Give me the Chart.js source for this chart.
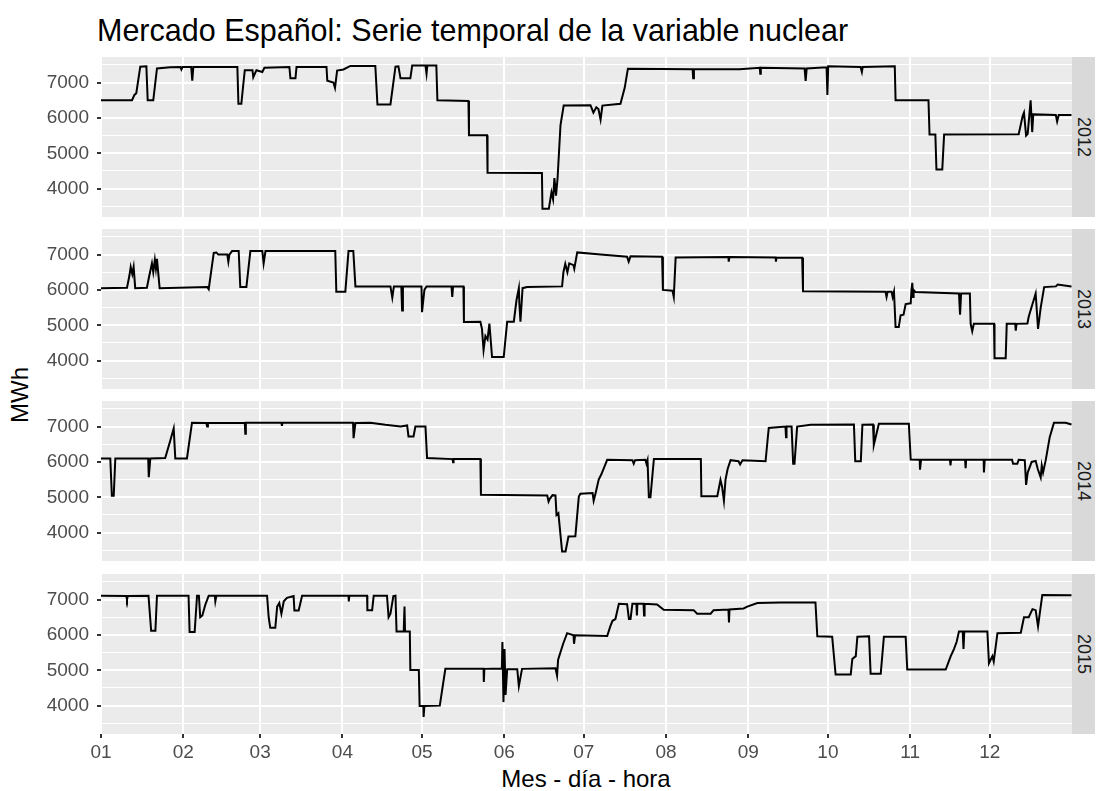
<!DOCTYPE html>
<html lang="es">
<head>
<meta charset="UTF-8">
<title>Mercado Español: Serie temporal de la variable nuclear</title>
<script src="https://cdn.jsdelivr.net/npm/chart.js"></script>
<style>
  body { margin: 0; background: #fff; font-family: "Liberation Sans", Arial, sans-serif; }
  .page { position: relative; width: 1105px; height: 791px; overflow: hidden; }
  .title { position: absolute; left: 97px; top: 15px; font-size: 30.5px; line-height: 30.5px; color: #000; white-space: nowrap; }
  .panel { position: absolute; left: 0; width: 1072px; }
  .strip { position: absolute; left: 1072px; width: 23px; height: 160px; background: #D9D9D9; }
  .strip span { position: absolute; left: 50%; top: 50%; transform: translate(-50%, -50%) rotate(90deg); font-size: 18px; line-height: 18px; color: #1A1A1A; }
  .ylab { position: absolute; left: 20px; top: 395px; transform: translate(-50%, -50%) rotate(-90deg); font-size: 24px; line-height: 24px; color: #000; white-space: nowrap; }
  .xlab { position: absolute; left: 586px; top: 767px; transform: translateX(-50%); font-size: 24px; line-height: 24px; color: #000; white-space: nowrap; }
</style>
</head>
<body>
<div class="page" id="page">
  <div class="title">Mercado Español: Serie temporal de la variable nuclear</div>
  <div class="ylab">MWh</div>
  <div class="xlab">Mes - día - hora</div>
</div>

<script>
  // x = day of year (leap-year calendar, 0 = 1 Jan 00:00), y = MWh
  const years = ['2012', '2013', '2014', '2015'];
  const monthStarts = [0, 31, 60, 91, 121, 152, 182, 213, 244, 274, 305, 335];
  const monthLabels = ['01', '02', '03', '04', '05', '06', '07', '08', '09', '10', '11', '12'];
  const yTicks = [3500, 4000, 4500, 5000, 5500, 6000, 6500, 7000, 7500];
  const yLabelled = [4000, 5000, 6000, 7000];

  const nuclear2012 = [
    [0, 6500], [11.7, 6500], [12.6, 6650], [13.3, 6700], [14.8, 7450], [17.1, 7460], [17.6, 6500], [19.7, 6500],
    [21.1, 7400], [26.1, 7430], [29.9, 7440], [30.3, 7370], [30.7, 7440], [34.0, 7440], [34.4, 7050], [34.8, 7440],
    [51.4, 7440], [51.8, 6400], [52.9, 6400], [53.5, 6850], [54.2, 7350], [57.1, 7350], [57.4, 7150], [58.6, 7350],
    [60.8, 7300], [61.6, 7420], [71.0, 7440], [71.4, 7120], [73.3, 7120], [73.7, 7440], [85.0, 7440], [85.3, 7050],
    [87.6, 7000], [88.2, 6850], [89.0, 7340], [91.4, 7370], [94.0, 7470], [103.4, 7470], [104.2, 6380], [109.1, 6380],
    [111.0, 7450], [112.1, 7460], [112.9, 7120], [116.6, 7120], [117.3, 7480], [122.3, 7480], [122.7, 7250], [123.0, 7480],
    [126.4, 7480], [126.8, 6500], [138.5, 6480], [138.7, 5510], [145.5, 5510], [145.7, 4450], [166.2, 4440], [166.4, 3430],
    [168.8, 3430], [169.8, 3900], [170.4, 3700], [170.9, 4300], [171.5, 3800], [172.1, 4300], [173.2, 5800], [174.4, 6350],
    [184.5, 6360], [185.6, 6150], [186.7, 6300], [187.5, 6250], [188.3, 5950], [189.0, 6350], [195.8, 6400], [197.4, 6850],
    [198.6, 7390], [223.0, 7380], [223.2, 7120], [223.5, 7380], [240.7, 7380], [248.3, 7420], [248.5, 7250], [248.7, 7420],
    [265.2, 7400], [265.6, 7050], [266.0, 7400], [273.5, 7430], [273.8, 6650], [274.1, 7460], [286.3, 7440], [286.8, 7300],
    [287.1, 7440], [299.2, 7460], [299.5, 6500], [311.9, 6500], [312.3, 5530], [314.5, 5530], [314.9, 4540], [317.1, 4540],
    [317.8, 5530], [345.9, 5540], [347.4, 6050], [347.9, 6150], [348.7, 5500], [349.3, 5550], [350.4, 6500], [351.0, 5600],
    [351.4, 6100], [359.9, 6080], [360.4, 5900], [361.0, 6080], [365.8, 6080]
  ];

  const nuclear2013 = [
    [0, 6050], [9.8, 6060], [10.7, 6400], [11.2, 6650], [11.8, 6450], [12.3, 6650], [12.9, 6050], [17.3, 6060],
    [18.2, 6400], [19.2, 6750], [19.7, 6500], [20.3, 6850], [20.7, 6600], [21.1, 6880], [22.1, 6050], [40.1, 6080],
    [40.6, 6020], [42.5, 7050], [43.5, 7060], [44.2, 7000], [47.6, 7000], [48.0, 6800], [48.4, 7000], [49.4, 7100],
    [51.9, 7100], [52.5, 6080], [54.8, 6080], [56.3, 7100], [60.8, 7100], [61.3, 6750], [62.0, 7100], [88.3, 7100],
    [88.7, 5950], [92.1, 5950], [93.3, 7100], [95.1, 7100], [95.9, 6100], [109.1, 6100], [109.8, 5780], [110.4, 6100],
    [113.2, 6100], [113.5, 5420], [113.8, 6100], [120.8, 6100], [121.0, 5370], [121.9, 6000], [122.7, 6100], [132.1, 6100],
    [132.4, 5800], [132.7, 6100], [136.6, 6100], [136.8, 5090], [143.0, 5100], [143.6, 4900], [144.2, 4300], [144.9, 4700],
    [145.7, 4600], [146.4, 5050], [147.4, 4100], [151.8, 4100], [153.1, 5100], [155.6, 5100], [156.6, 5700], [157.5, 6050],
    [157.7, 5600], [158.1, 5100], [158.9, 6050], [160.6, 6080], [173.8, 6100], [174.3, 6500], [175.0, 6740], [175.8, 6500],
    [176.5, 6750], [178.1, 6700], [178.4, 6600], [179.5, 7060], [188.3, 7000], [198.3, 6940], [198.9, 6800], [199.6, 6950],
    [211.5, 6940], [211.8, 6000], [215.4, 5980], [215.9, 5800], [216.6, 6920], [236.5, 6930], [236.6, 6800], [236.9, 6930],
    [254.3, 6920], [254.4, 6800], [254.6, 6920], [264.3, 6910], [264.6, 5960], [295.7, 5950], [296.1, 5800], [296.5, 5950],
    [298.0, 5950], [298.4, 5800], [298.9, 5950], [299.5, 4950], [300.7, 4950], [301.4, 5280], [302.5, 5300], [303.3, 5600],
    [305.2, 5620], [305.5, 6000], [305.8, 6200], [306.1, 5800], [306.3, 6000], [307.0, 5940], [323.4, 5900], [323.8, 5300],
    [324.2, 5900], [327.5, 5900], [327.8, 5040], [328.4, 4830], [329.0, 5040], [336.6, 5040], [336.8, 4070], [341.0, 4070],
    [341.4, 5040], [344.6, 5040], [344.8, 4850], [345.1, 5040], [349.2, 5050], [349.7, 5250], [352.3, 5900], [353.2, 4900],
    [354.2, 5500], [355.5, 6080], [359.9, 6100], [360.6, 6150], [365.8, 6100]
  ];

  const nuclear2014 = [
    [0, 6100], [3.5, 6100], [4.1, 5040], [4.8, 5040], [5.4, 6100], [17.8, 6100], [18.0, 5570], [18.6, 6100],
    [24.2, 6110], [26.1, 6600], [27.4, 6950], [28.0, 6100], [32.4, 6100], [34.3, 7110], [39.7, 7100], [40.0, 7000],
    [40.3, 7100], [54.2, 7110], [54.4, 6800], [54.6, 7110], [68.0, 7110], [68.2, 7020], [68.4, 7110], [95.0, 7110],
    [95.2, 6670], [95.9, 7100], [101.5, 7110], [107.2, 7050], [112.9, 7000], [115.4, 7030], [115.9, 6720], [117.8, 6720],
    [118.5, 7000], [122.3, 7000], [122.9, 6110], [132.5, 6080], [132.7, 5990], [132.9, 6080], [143.0, 6080], [143.2, 5070],
    [168.2, 5050], [168.7, 4880], [169.1, 4950], [170.2, 5060], [171.3, 5050], [171.7, 4500], [172.4, 4550], [173.8, 3470],
    [175.1, 3470], [176.2, 3890], [178.8, 3900], [180.1, 5020], [180.7, 5100], [185.3, 5120], [185.7, 4900], [186.4, 5110],
    [187.6, 5500], [188.6, 5650], [190.8, 6060], [200.3, 6050], [200.8, 5950], [201.3, 6050], [205.2, 6060], [205.6, 5950],
    [206.0, 6050], [206.5, 5000], [207.1, 5000], [208.4, 6080], [226.1, 6080], [226.3, 5030], [232.3, 5030], [233.5, 5490],
    [234.1, 5300], [234.8, 4900], [235.4, 5500], [236.2, 5800], [237.3, 6050], [240.3, 6020], [240.9, 5930], [241.8, 6050],
    [250.5, 6020], [251.1, 6500], [251.7, 6960], [258.0, 7000], [258.2, 6700], [258.4, 7000], [260.3, 7000], [260.9, 5950],
    [261.4, 5950], [262.4, 7000], [267.5, 7050], [283.8, 7060], [284.3, 6020], [286.4, 6020], [287.0, 7050], [291.0, 7060],
    [291.3, 6480], [293.2, 7080], [304.5, 7080], [305.2, 6070], [308.6, 6060], [308.7, 5780], [309.1, 6060], [320.0, 6060],
    [320.2, 5900], [320.4, 6060], [325.7, 6060], [325.9, 5820], [326.1, 6060], [332.7, 6060], [332.8, 5700], [333.1, 6060],
    [343.4, 6060], [343.8, 5950], [345.4, 5950], [345.9, 6060], [348.2, 6050], [348.7, 5350], [349.3, 5700], [350.8, 6000],
    [352.3, 6030], [353.1, 5800], [354.2, 5560], [354.6, 5900], [355.1, 5700], [356.1, 6050], [357.6, 6700], [359.2, 7110],
    [363.6, 7110], [365.8, 7060]
  ];

  const nuclear2015 = [
    [0, 7110], [9.5, 7100], [9.8, 7000], [10.1, 7100], [17.9, 7110], [18.9, 6120], [20.5, 6120], [21.1, 7110],
    [33.0, 7110], [33.4, 6080], [35.3, 6080], [36.2, 7110], [36.9, 7110], [37.4, 6500], [38.2, 6550], [39.3, 6850],
    [40.6, 7110], [42.9, 7110], [43.1, 6950], [43.5, 7110], [62.6, 7110], [63.2, 6500], [63.8, 6200], [65.7, 6200],
    [66.4, 6800], [67.2, 6900], [68.0, 6600], [68.9, 6950], [70.1, 7050], [72.6, 7100], [72.9, 6690], [74.5, 6690],
    [75.8, 7110], [93.3, 7110], [93.4, 6950], [93.6, 7110], [100.3, 7110], [100.4, 6700], [102.2, 6700], [102.8, 7110],
    [107.8, 7110], [108.4, 6500], [109.1, 6600], [110.2, 7100], [111.0, 7110], [111.4, 6100], [114.1, 6100], [114.4, 6800],
    [114.6, 6100], [116.4, 6100], [116.6, 5010], [119.8, 5010], [120.1, 3990], [121.5, 3990], [121.6, 3680], [121.9, 3990],
    [127.7, 4000], [129.8, 5040], [144.2, 5040], [144.3, 4670], [144.5, 5040], [151.1, 5050], [151.3, 5800], [151.7, 4100],
    [152.1, 5600], [152.5, 4300], [153.1, 5030], [156.9, 5030], [157.5, 4550], [158.7, 5040], [171.3, 5060], [171.9, 4850],
    [172.3, 5300], [174.2, 5750], [175.7, 6050], [178.1, 5990], [178.3, 5750], [178.7, 5990], [190.8, 5970], [192.0, 6250],
    [192.8, 6400], [193.9, 6450], [195.2, 6880], [198.3, 6870], [199.0, 6450], [199.6, 6450], [200.3, 6880], [201.8, 6880],
    [202.0, 6550], [202.2, 6880], [204.5, 6880], [204.7, 6550], [204.9, 6880], [209.6, 6860], [212.1, 6710], [223.4, 6700],
    [224.7, 6600], [229.8, 6600], [230.9, 6700], [236.5, 6720], [236.7, 6350], [236.9, 6720], [242.2, 6750], [243.6, 6800],
    [247.4, 6900], [256.1, 6920], [269.3, 6920], [270.0, 5960], [275.6, 5950], [276.9, 4880], [282.6, 4880], [283.2, 5320],
    [284.5, 5400], [285.1, 5950], [289.5, 5960], [290.1, 4900], [293.9, 4900], [295.1, 5950], [303.3, 5950], [303.9, 5020],
    [318.4, 5020], [320.3, 5400], [321.5, 5600], [322.5, 5800], [323.4, 6100], [324.8, 6100], [325.1, 5600], [325.4, 6100],
    [334.1, 6100], [334.7, 5200], [336.0, 5400], [336.5, 5250], [337.9, 6050], [346.7, 6060], [347.9, 6500], [349.7, 6500],
    [351.1, 6730], [352.3, 6700], [353.2, 6240], [354.8, 7130], [365.8, 7120]
  ];

  const series = [nuclear2012, nuclear2013, nuclear2014, nuclear2015];

  // layout of the four facets (pixels)
  const panelTops = [57, 229, 401, 574];
  const panelHeight = 160;
  const axisWidth = 101;
  const bottomAxisHeight = 30;
  const fontFamily = '"Liberation Sans", Arial, sans-serif';

  const panelBackground = {
    id: 'panelBackground',
    beforeDraw(chart) {
      const { ctx, chartArea } = chart;
      ctx.save();
      ctx.fillStyle = '#EBEBEB';
      ctx.fillRect(chartArea.left, chartArea.top, chartArea.right - chartArea.left, chartArea.bottom - chartArea.top);
      ctx.restore();
    }
  };

  function makePanel(i) {
    const page = document.getElementById('page');
    const isBottom = i === series.length - 1;
    const h = panelHeight + (isBottom ? bottomAxisHeight : 0);

    const wrap = document.createElement('div');
    wrap.className = 'panel';
    wrap.style.top = panelTops[i] + 'px';
    wrap.style.height = h + 'px';
    const canvas = document.createElement('canvas');
    canvas.width = 1072;
    canvas.height = h;
    wrap.appendChild(canvas);
    page.appendChild(wrap);

    const strip = document.createElement('div');
    strip.className = 'strip';
    strip.style.top = panelTops[i] + 'px';
    strip.innerHTML = '<span>' + years[i] + '</span>';
    page.appendChild(strip);

    new Chart(canvas, {
      type: 'line',
      data: {
        datasets: [{
          label: years[i],
          data: series[i].map(p => ({ x: p[0], y: p[1] })),
          borderColor: '#000000',
          borderWidth: 2,
          pointRadius: 0,
          tension: 0,
          fill: false
        }]
      },
      options: {
        responsive: false,
        animation: false,
        layout: { padding: 0 },
        plugins: {
          legend: { display: false },
          tooltip: { enabled: false }
        },
        scales: {
          x: {
            type: 'linear',
            min: 0,
            max: 366,
            afterBuildTicks: s => { s.ticks = monthStarts.map(v => ({ value: v })); },
            afterFit: s => {
              s.height = isBottom ? bottomAxisHeight : 0;
              s.paddingLeft = 0; s.paddingRight = 0;
            },
            ticks: {
              display: isBottom,
              autoSkip: false,
              maxRotation: 0,
              padding: 3,
              color: '#4D4D4D',
              font: { size: 19, family: fontFamily },
              callback: (v, idx) => monthLabels[idx]
            },
            grid: {
              color: '#FFFFFF',
              lineWidth: 2,
              drawTicks: isBottom,
              tickLength: 4,
              tickColor: '#333333',
              tickWidth: 2
            },
            border: { display: false }
          },
          y: {
            type: 'linear',
            min: 3198,
            max: 7723,
            afterBuildTicks: s => { s.ticks = yTicks.map(v => ({ value: v })); },
            afterFit: s => {
              s.width = axisWidth;
              s.paddingTop = 0; s.paddingBottom = 0;
            },
            ticks: {
              autoSkip: false,
              padding: 8,
              color: '#4D4D4D',
              font: { size: 19, family: fontFamily },
              callback: v => yLabelled.includes(v) ? String(v) : ''
            },
            grid: {
              color: '#FFFFFF',
              lineWidth: c => (c.tick && yLabelled.includes(c.tick.value)) ? 2 : 1,
              tickLength: 4,
              tickWidth: 2,
              tickColor: c => (c.tick && yLabelled.includes(c.tick.value)) ? '#333333' : 'rgba(0,0,0,0)'
            },
            border: { display: false }
          }
        }
      },
      plugins: [panelBackground]
    });
  }

  series.forEach((s, i) => makePanel(i));
</script>
</body>
</html>
